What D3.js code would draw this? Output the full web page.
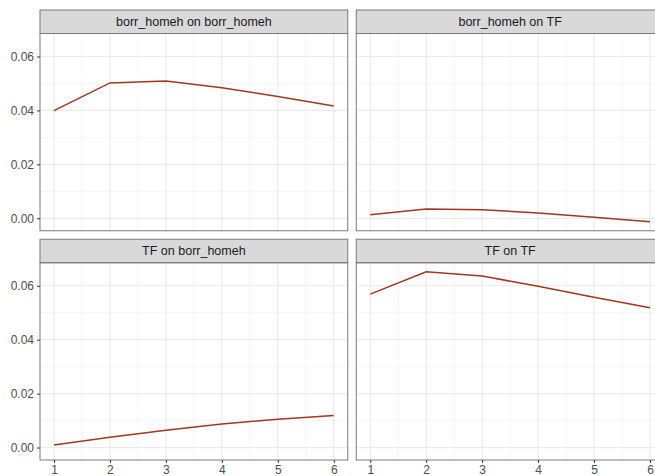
<!DOCTYPE html>
<html>
<head>
<meta charset="utf-8">
<script src="https://cdn.jsdelivr.net/npm/d3@7"></script>
<style>
  body { margin: 0; background: #fff; overflow: hidden; }
  text { font-family: "Liberation Sans", Arial, sans-serif; }
</style>
</head>
<body>
<svg id="chart"></svg>
<script>
const horizons = [1, 2, 3, 4, 5, 6];
const panelTitles = ['borr_homeh on borr_homeh', 'borr_homeh on TF', 'TF on borr_homeh', 'TF on TF'];
const borrOnBorr = [0.0399, 0.0502, 0.0509, 0.0484, 0.0452, 0.0416];
const borrOnTF = [0.0013, 0.0034, 0.0032, 0.0020, 0.0004, -0.0013];
const tfOnBorr = [0.0009, 0.0038, 0.0064, 0.0087, 0.0105, 0.0119];
const tfOnTF = [0.0569, 0.0652, 0.0636, 0.0598, 0.0557, 0.0518];
const yTicks = [0, 0.02, 0.04, 0.06];
const series = [borrOnBorr, borrOnTF, tfOnBorr, tfOnTF];

const WIDTH = 665, HEIGHT = 476;
const margin = {top: 10, left: 40, right: 1, bottom: 16};
const gap = 8.5, stripH = 23.5;
const panelW = (WIDTH - margin.left - margin.right - gap) / 2;
const panelH = (HEIGHT - margin.top - margin.bottom - gap) / 2 - stripH;

const svg = d3.select('#chart')
  .attr('width', WIDTH)
  .attr('height', HEIGHT);

// shared scales, ggplot-style 5% expansion
const all = series.flat();
const yMin = d3.min(all), yMax = d3.max(all);
const yPad = (yMax - yMin) * 0.05;
const x = d3.scaleLinear().domain([0.75, 6.25]).range([0, panelW]);
const y = d3.scaleLinear().domain([yMin - yPad, yMax + yPad]).range([panelH, 0]);

const line = d3.line()
  .x((d, i) => x(horizons[i]))
  .y(d => y(d));

const minorX = [1.5, 2.5, 3.5, 4.5, 5.5];
const minorY = [0.01, 0.03, 0.05];

series.forEach((vals, k) => {
  const col = k % 2, row = Math.floor(k / 2);
  const px = margin.left + col * (panelW + gap);
  const py = margin.top + row * (panelH + stripH + gap);
  const g = svg.append('g').attr('transform', `translate(${px},${py})`);

  // strip
  g.append('rect')
    .attr('x', 0).attr('y', 0)
    .attr('width', panelW).attr('height', stripH)
    .attr('fill', '#d9d9d9')
    .attr('stroke', '#7a7a7a').attr('stroke-width', 1);
  g.append('text')
    .attr('x', panelW / 2).attr('y', stripH / 2)
    .attr('dy', '0.35em')
    .attr('text-anchor', 'middle')
    .style('font-size', '12.5px')
    .attr('fill', '#1a1a1a')
    .text(panelTitles[k]);

  const p = g.append('g').attr('transform', `translate(0,${stripH})`);

  // grid
  p.selectAll('.minorx').data(minorX).join('line')
    .attr('x1', d => x(d)).attr('x2', d => x(d))
    .attr('y1', 0).attr('y2', panelH)
    .attr('stroke', '#f0f0f0').attr('stroke-width', 0.7);
  p.selectAll('.minory').data(minorY).join('line')
    .attr('x1', 0).attr('x2', panelW)
    .attr('y1', d => y(d)).attr('y2', d => y(d))
    .attr('stroke', '#f0f0f0').attr('stroke-width', 0.7);
  p.selectAll('.majorx').data(horizons).join('line')
    .attr('x1', d => x(d)).attr('x2', d => x(d))
    .attr('y1', 0).attr('y2', panelH)
    .attr('stroke', '#ebebeb').attr('stroke-width', 1.2);
  p.selectAll('.majory').data(yTicks).join('line')
    .attr('x1', 0).attr('x2', panelW)
    .attr('y1', d => y(d)).attr('y2', d => y(d))
    .attr('stroke', '#ebebeb').attr('stroke-width', 1.2);

  // series line
  p.append('path')
    .datum(vals)
    .attr('d', line)
    .attr('fill', 'none')
    .attr('stroke', '#a3361f')
    .attr('stroke-width', 1.5);

  // border
  p.append('rect')
    .attr('width', panelW).attr('height', panelH)
    .attr('fill', 'none')
    .attr('stroke', '#7a7a7a').attr('stroke-width', 1);

  // y axis on left column
  if (col === 0) {
    const ya = p.append('g')
      .call(d3.axisLeft(y).tickValues(yTicks).tickFormat(d3.format('.2f')).tickSize(3).tickPadding(3));
    ya.select('.domain').remove();
    ya.selectAll('line').attr('stroke', '#333');
    ya.selectAll('text').attr('fill', '#4d4d4d').style('font-size', '12px');
  }
  // x axis on bottom row
  if (row === 1) {
    const xa = p.append('g')
      .attr('transform', `translate(0,${panelH})`)
      .call(d3.axisBottom(x).tickValues(horizons).tickFormat(d3.format('d')).tickSize(3).tickPadding(2));
    xa.select('.domain').remove();
    xa.selectAll('line').attr('stroke', '#333');
    xa.selectAll('text').attr('fill', '#4d4d4d').style('font-size', '12px');
  }
});
</script>
</body>
</html>
